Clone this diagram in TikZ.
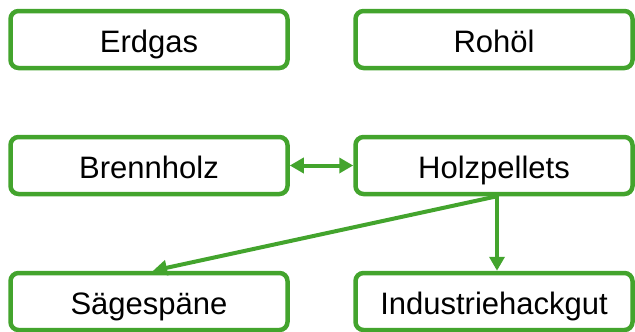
\documentclass[tikz,border=0pt]{standalone}
\usepackage{fontspec}
\setmainfont{Liberation Sans}
\usetikzlibrary{arrows.meta}
\definecolor{holzgruen}{RGB}{67,164,45}

\begin{document}
\begin{tikzpicture}[x=1pt,y=-1pt,
  >={Triangle[length=14pt,width=15pt]},
  kasten/.style={draw=holzgruen, line width=4.5pt, rounded corners=8pt,
    fill=white, minimum width=277pt, minimum height=57pt,
    text height=27pt, text depth=2pt, inner sep=0pt,
    font=\fontsize{31}{36}\selectfont},
  pfeil/.style={draw=holzgruen, line width=4pt}]

\useasboundingbox (0,0) rectangle (635,332);

\node[kasten] (erdgas) at (149,39.5) {Erdgas};
\node[kasten] (rohoel) at (494,39.5) {Rohöl};

\node[kasten] (brennholz) at (149,165.5) {Brennholz};
\node[kasten] (pellets) at (494,165.5) {Holzpellets};

\node[kasten] (spaene) at (149,301.5) {Sägespäne};
\node[kasten] (hackgut) at (494,301.5) {Industriehackgut};

\draw[pfeil, <->]
  (brennholz) -- (pellets);

\coordinate (ab) at ([xshift=3pt]pellets.south);
\draw[pfeil, ->]
  (ab) -- ([xshift=3pt]hackgut.north);
\draw[pfeil, ->]
  (ab) -- ([xshift=4pt]spaene.north);

\end{tikzpicture}
\end{document}
